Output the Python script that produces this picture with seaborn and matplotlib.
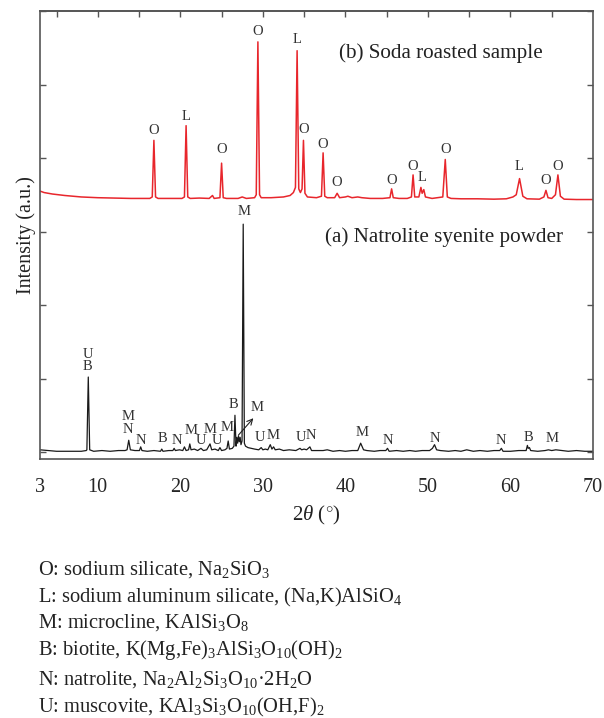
import matplotlib
matplotlib.use("Agg")
import matplotlib.pyplot as plt
import seaborn as sns
import pandas as pd

# ---------------- data ----------------
# (a) Natrolite syenite powder (black trace), 2theta vs intensity (a.u.)
natrolite_x = [3.0, 4.0, 5.0, 6.0, 7.0, 8.0, 8.6, 8.68, 8.85, 9.02, 9.5, 10.5, 11.5, 12.5, 13.3,
               13.55, 13.75, 13.95, 14.5, 15.05, 15.2, 15.35, 16.0, 16.8, 17.6, 17.75, 17.9, 18.6,
               19.1, 19.25, 19.4, 19.9, 20.3, 20.5, 20.7, 21.0, 21.15, 21.3, 21.7, 22.1, 22.5, 22.8,
               23.2, 23.6, 23.8, 24.2, 24.6, 24.8, 25.0, 25.4, 25.65, 25.8, 25.95, 26.3, 26.5, 26.62,
               26.75, 26.85, 26.95, 27.05, 27.15, 27.25, 27.35, 27.48, 27.62, 27.76, 27.9, 28.2, 28.6,
               29.0, 29.5, 29.8, 30.0, 30.3, 30.6, 30.9, 31.1, 31.3, 31.5, 32.0, 32.5, 33.2, 34.0,
               34.5, 34.7, 35.0, 35.3, 35.7, 35.9, 36.5, 37.3, 37.8, 38.5, 39.3, 40.0, 40.8, 41.5,
               41.85, 42.2, 42.6, 43.5, 44.2, 44.9, 45.1, 45.3, 46.2, 47.0, 47.8, 48.5, 49.3, 50.2,
               50.55, 50.8, 51.05, 51.5, 52.5, 53.3, 54.0, 54.7, 55.5, 56.3, 57.2, 58.0, 58.7, 58.9,
               59.1, 60.0, 61.0, 61.9, 62.05, 62.15, 62.3, 62.45, 63.3, 64.2, 64.6, 65.0, 65.5, 66.3,
               67.0, 68.0, 69.0, 70.0]
natrolite_y = [0.03, 0.02, 0.01, 0.01, 0.01, 0.01, 0.02, 0.03, 1.02, 0.03, 0.01, 0.02, 0.01, 0.02, 0.02,
               0.03, 0.16, 0.03, 0.02, 0.02, 0.07, 0.02, 0.01, 0.02, 0.01, 0.04, 0.01, 0.02,
               0.02, 0.05, 0.02, 0.03, 0.02, 0.07, 0.02, 0.03, 0.11, 0.03, 0.04, 0.02, 0.05, 0.02,
               0.03, 0.11, 0.03, 0.04, 0.02, 0.06, 0.02, 0.03, 0.05, 0.15, 0.04, 0.05, 0.08, 0.50,
               0.08, 0.20, 0.12, 0.22, 0.14, 0.20, 0.10, 0.15, 3.10, 0.12, 0.08, 0.06, 0.05,
               0.04, 0.03, 0.06, 0.03, 0.04, 0.03, 0.10, 0.04, 0.07, 0.03, 0.04, 0.02, 0.03, 0.02,
               0.05, 0.03, 0.04, 0.03, 0.07, 0.02, 0.02, 0.02, 0.03, 0.01, 0.02, 0.01, 0.02, 0.02,
               0.12, 0.03, 0.02, 0.01, 0.02, 0.02, 0.05, 0.01, 0.02, 0.01, 0.02, 0.01, 0.02, 0.02,
               0.05, 0.10, 0.03, 0.02, 0.01, 0.02, 0.01, 0.03, 0.01, 0.02, 0.01, 0.02, 0.02, 0.05,
               0.01, 0.01, 0.02, 0.02, 0.09, 0.05, 0.06, 0.02, 0.01, 0.02, 0.03, 0.02, 0.03, 0.02,
               0.01, 0.02, 0.01, 0.01]

# (b) Soda roasted sample (red trace, offset upward)
roasted_x = [3.0, 3.5, 4.5, 6.0, 8.0, 10.0, 12.0, 14.0, 16.3, 16.6, 16.8, 17.0, 17.3, 19.0, 20.2,
             20.5, 20.7, 20.9, 21.2, 22.3, 23.5, 23.9, 24.1, 24.8, 25.0, 25.2, 25.6, 27.0, 27.5,
             28.0, 29.0, 29.2, 29.4, 29.6, 29.8, 31.0, 32.5, 33.3, 33.7, 33.95, 34.15, 34.35,
             34.55, 34.75, 34.92, 35.1, 35.4, 36.5, 37.1, 37.3, 37.5, 37.8, 38.7, 39.0, 39.3,
             40.0, 40.3, 40.8, 41.5, 42.0, 43.0, 44.5, 45.4, 45.6, 45.8, 46.5, 47.5, 48.0, 48.2,
             48.4, 48.9, 49.15, 49.3, 49.5, 49.7, 50.5, 51.8, 52.1, 52.35, 52.8, 54.0, 56.0, 58.0,
             59.5, 60.3, 60.7, 61.1, 61.5, 62.0, 63.5, 64.05, 64.3, 64.55, 65.0, 65.45, 65.75,
             66.05, 66.5, 68.0, 70.0]
roasted_y = [3.55, 3.53, 3.51, 3.49, 3.47, 3.46, 3.455, 3.45, 3.45, 3.47, 4.24, 3.47, 3.45, 3.45, 3.45,
             3.47, 4.44, 3.47, 3.45, 3.455, 3.45, 3.49, 3.45, 3.46, 3.93, 3.46, 3.45, 3.45, 3.47,
             3.45, 3.46, 3.50, 5.58, 3.50, 3.46, 3.46, 3.47, 3.49, 3.53, 3.60, 5.46, 3.58,
             3.53, 3.58, 4.24, 3.52, 3.47, 3.46, 3.48, 4.07, 3.48, 3.46, 3.46, 3.52, 3.46,
             3.47, 3.48, 3.46, 3.47, 3.46, 3.45, 3.45, 3.46, 3.58, 3.46, 3.45, 3.45, 3.47, 3.77,
             3.47, 3.47, 3.60, 3.52, 3.57, 3.47, 3.45, 3.47, 3.98, 3.47, 3.45, 3.445, 3.445, 3.44,
             3.445, 3.47, 3.50, 3.72, 3.48, 3.445, 3.44, 3.47, 3.56, 3.46, 3.45, 3.50, 3.77,
             3.48, 3.44, 3.435, 3.435]

# phase labels for the roasted sample
roasted_lab = ["O", "L", "O", "O", "L", "O", "O", "O", "O", "O", "L", "O", "L", "O", "O"]
roasted_lab_x = [16.8, 20.7, 25.0, 29.4, 34.15, 35.0, 37.3, 39.0, 45.6, 48.2, 49.3, 52.1, 61.1, 64.3, 65.75]
roasted_lab_y = [4.38, 4.56, 4.11, 5.72, 5.61, 4.39, 4.19, 3.66, 3.69, 3.88, 3.73, 4.11, 3.88, 3.70, 3.88]

# phase labels for the natrolite syenite powder
natrolite_lab = ["U", "B", "M", "N", "N", "B", "N", "M", "U", "M", "U", "M", "B", "M", "M",
                 "U", "M", "U", "N", "M", "N", "N", "N", "B", "M"]
natrolite_lab_x = [8.8, 8.8, 13.7, 13.7, 15.2, 17.8, 19.6, 21.3, 22.5, 23.6, 24.5, 25.7, 26.4, 29.3, 27.7,
                   29.6, 31.2, 34.6, 35.8, 42.0, 45.1, 50.8, 58.9, 62.2, 65.0]
natrolite_lab_y = [1.33, 1.16, 0.48, 0.30, 0.16, 0.19, 0.15, 0.29, 0.15, 0.31, 0.15, 0.33, 0.64, 0.60, 3.27,
                   0.20, 0.22, 0.20, 0.22, 0.26, 0.15, 0.18, 0.15, 0.20, 0.19]

x_ticks = [3, 10, 20, 30, 40, 50, 60, 70]
x_minor = [5, 15, 25, 35, 45, 55, 65]
top_ticks = [5, 10, 15, 20, 25, 30, 35, 40, 45, 50, 55, 60, 65]
y_ticks = [0, 1, 2, 3, 4, 5, 6]

legend_lines = [
    "O: sodium silicate, Na$_2$SiO$_3$",
    "L: sodium aluminum silicate, (Na,K)AlSiO$_4$",
    "M: microcline, KAlSi$_3$O$_8$",
    "B: biotite, K(Mg,Fe)$_3$AlSi$_3$O$_{10}$(OH)$_2$",
    "N: natrolite, Na$_2$Al$_2$Si$_3$O$_{10}$·2H$_2$O",
    "U: muscovite, KAl$_3$Si$_3$O$_{10}$(OH,F)$_2$",
]
legend_baselines_px = [575, 602, 628, 655, 685, 712]

# ---------------- style ----------------
sns.set_style("white")
plt.rcParams["font.family"] = ["Liberation Serif", "DejaVu Serif"]
plt.rcParams["mathtext.fontset"] = "custom"
plt.rcParams["mathtext.rm"] = "Liberation Serif"
plt.rcParams["mathtext.it"] = "Liberation Serif:italic"
plt.rcParams["mathtext.bf"] = "Liberation Serif:bold"

W, H = 604, 718
fig = plt.figure(figsize=(W / 100, H / 100), dpi=100)
ax = fig.add_axes([40 / W, 1 - 459 / H, (593 - 40) / W, (459 - 11) / H])

df_a = pd.DataFrame({"two_theta": natrolite_x, "intensity": natrolite_y})
df_b = pd.DataFrame({"two_theta": roasted_x, "intensity": roasted_y})
sns.lineplot(data=df_a, x="two_theta", y="intensity", ax=ax, color="#1a1a1a",
             lw=0.9, estimator=None, sort=False)
sns.lineplot(data=df_b, x="two_theta", y="intensity", ax=ax, color="#e8262c",
             lw=1.1, estimator=None, sort=False)

ax.set_xlim(3, 70)
ax.set_ylim(-0.095, 6.0)

for t, x, y in zip(roasted_lab, roasted_lab_x, roasted_lab_y):
    ax.text(x, y, t, ha="center", va="center", fontsize=10.5, color="#333333")
for t, x, y in zip(natrolite_lab, natrolite_lab_x, natrolite_lab_y):
    ax.text(x, y, t, ha="center", va="center", fontsize=10.5, color="#333333")

ax.annotate("", xy=(28.85, 0.46), xytext=(27.04, 0.23),
            arrowprops=dict(arrowstyle="->", lw=0.8, color="#222222",
                            shrinkA=0, shrinkB=0))

ax.text(51.6, 5.43, "(b) Soda roasted sample", ha="center", va="center",
        fontsize=15.2, color="#222222")
ax.text(52.0, 2.93, "(a) Natrolite syenite powder", ha="center", va="center",
        fontsize=15.2, color="#222222")

ax.set_xticks(x_ticks)
ax.set_xticklabels([str(v) for v in x_ticks])
ax.set_xticks(x_minor, minor=True)
ax.set_yticks(y_ticks)
ax.set_yticklabels([])
ax.tick_params(axis="x", which="major", direction="out", length=8, width=1.1,
               color="#444444", labelsize=14.5, pad=6, top=False)
ax.tick_params(axis="x", which="minor", direction="out", length=4.5, width=1.1,
               color="#444444", top=False)
ax.tick_params(axis="y", which="major", direction="in", length=4, width=1.0,
               color="#555555", left=True, right=True, labelleft=False)

sec = ax.secondary_xaxis("top")
sec.set_xticks(top_ticks)
sec.set_xticklabels([])
sec.tick_params(direction="in", length=4, width=1.0, color="#555555")
sec.spines["top"].set_color("#555555")
sec.spines["top"].set_linewidth(1.2)

for s in ax.spines.values():
    s.set_color("#555555")
    s.set_linewidth(1.2)

ax.set_xlabel(r"2$\theta$ ($^{\circ}$)", fontsize=15, labelpad=5, color="#222222")
ax.set_ylabel("Intensity (a.u.)", fontsize=14.5, labelpad=3, color="#222222")

for line, ypx in zip(legend_lines, legend_baselines_px):
    fig.text(38 / W, 1 - ypx / H, line, ha="left", va="baseline", fontsize=14.8,
             color="#222222")

fig.savefig("out.png", dpi=100)
